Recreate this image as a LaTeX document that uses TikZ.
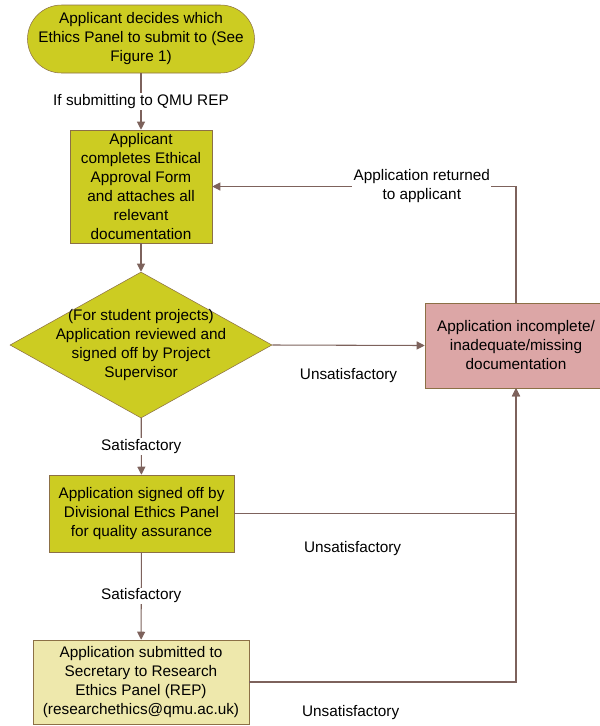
\documentclass[tikz,border=0pt]{standalone}
\usepackage{fontspec}
\setmainfont{Liberation Sans}
\usepackage{tikz}
\usetikzlibrary{arrows.meta}
\usetikzlibrary{shapes.geometric}
\definecolor{panelgreen}{RGB}{204, 204, 34}
\definecolor{secretary}{RGB}{238, 232, 172}
\definecolor{rejectpink}{RGB}{220, 166, 166}
\definecolor{edgebrown}{RGB}{140, 112, 70}
\definecolor{linebrown}{RGB}{125, 98, 92}

\begin{document}
\begin{tikzpicture}[x=0.75pt,y=-0.75pt,
    font=\fontsize{11.5pt}{14.25pt}\selectfont,
    box/.style={draw=edgebrown,fill=panelgreen,align=center,inner sep=2pt},
    flow/.style={draw=linebrown,line width=0.8pt,-{Triangle[length=6pt,width=6pt]}},
    lbl/.style={fill=white,align=center,inner sep=1pt}]
  \useasboundingbox (0,0) rectangle (600,726);
  \clip (0,0) rectangle (600,726);
  \node[box,rounded corners=25.5pt,minimum width=170.25pt,minimum height=51pt] (start) at (141,39)
    {Applicant decides which\\Ethics Panel to submit to (See\\Figure 1)};
  \node[box,minimum width=106.5pt,minimum height=84.75pt] (form) at (141,186.5)
    {Applicant\\completes Ethical\\Approval Form\\and attaches all\\relevant\\documentation};
  \node[draw=edgebrown,fill=panelgreen,diamond,minimum width=196.5pt,minimum height=109.5pt,inner sep=0pt] (rev) at (141,345) {};
  \node[align=center] (revtext) at (rev.center)
    {(For student projects)\\Application reviewed and\\signed off by Project\\Supervisor};
  \node[box,fill=rejectpink,minimum width=136.5pt,minimum height=63.75pt] (incomp) at (516,345.5)
    {Application incomplete/\\inadequate/missing\\documentation};
  \node[box,minimum width=138.75pt,minimum height=57.75pt] (ver) at (141.5,513.5)
    {Application signed off by\\Divisional Ethics Panel\\for quality assurance};
  \node[box,fill=secretary,minimum width=162pt,minimum height=63pt] (sub) at (141,682)
    {Application submitted to\\Secretary to Research\\Ethics Panel (REP)\\(researchethics@qmu.ac.uk)};
  \path[every edge/.style={flow}]
    (start) edge node[lbl] {If submitting to QMU REP} (form)
    (form) edge (rev)
    (rev.east) edge node[yshift=-23pt] {Unsatisfactory} (incomp.west)
    (rev) edge node[lbl] {Satisfactory} (ver)
    (ver) edge node[lbl] {Satisfactory} (sub);
  \draw[flow] (incomp.north) |- node[lbl,pos=0.655] {Application returned\\to applicant} (form.east);
  \draw[flow] (ver.east) -| node[pos=0.21,yshift=-26pt] {Unsatisfactory} (incomp.south);
  \draw[flow] (sub.east) -| node[pos=0.19,yshift=-23pt] {Unsatisfactory} (incomp.south);
\end{tikzpicture}
\end{document}
